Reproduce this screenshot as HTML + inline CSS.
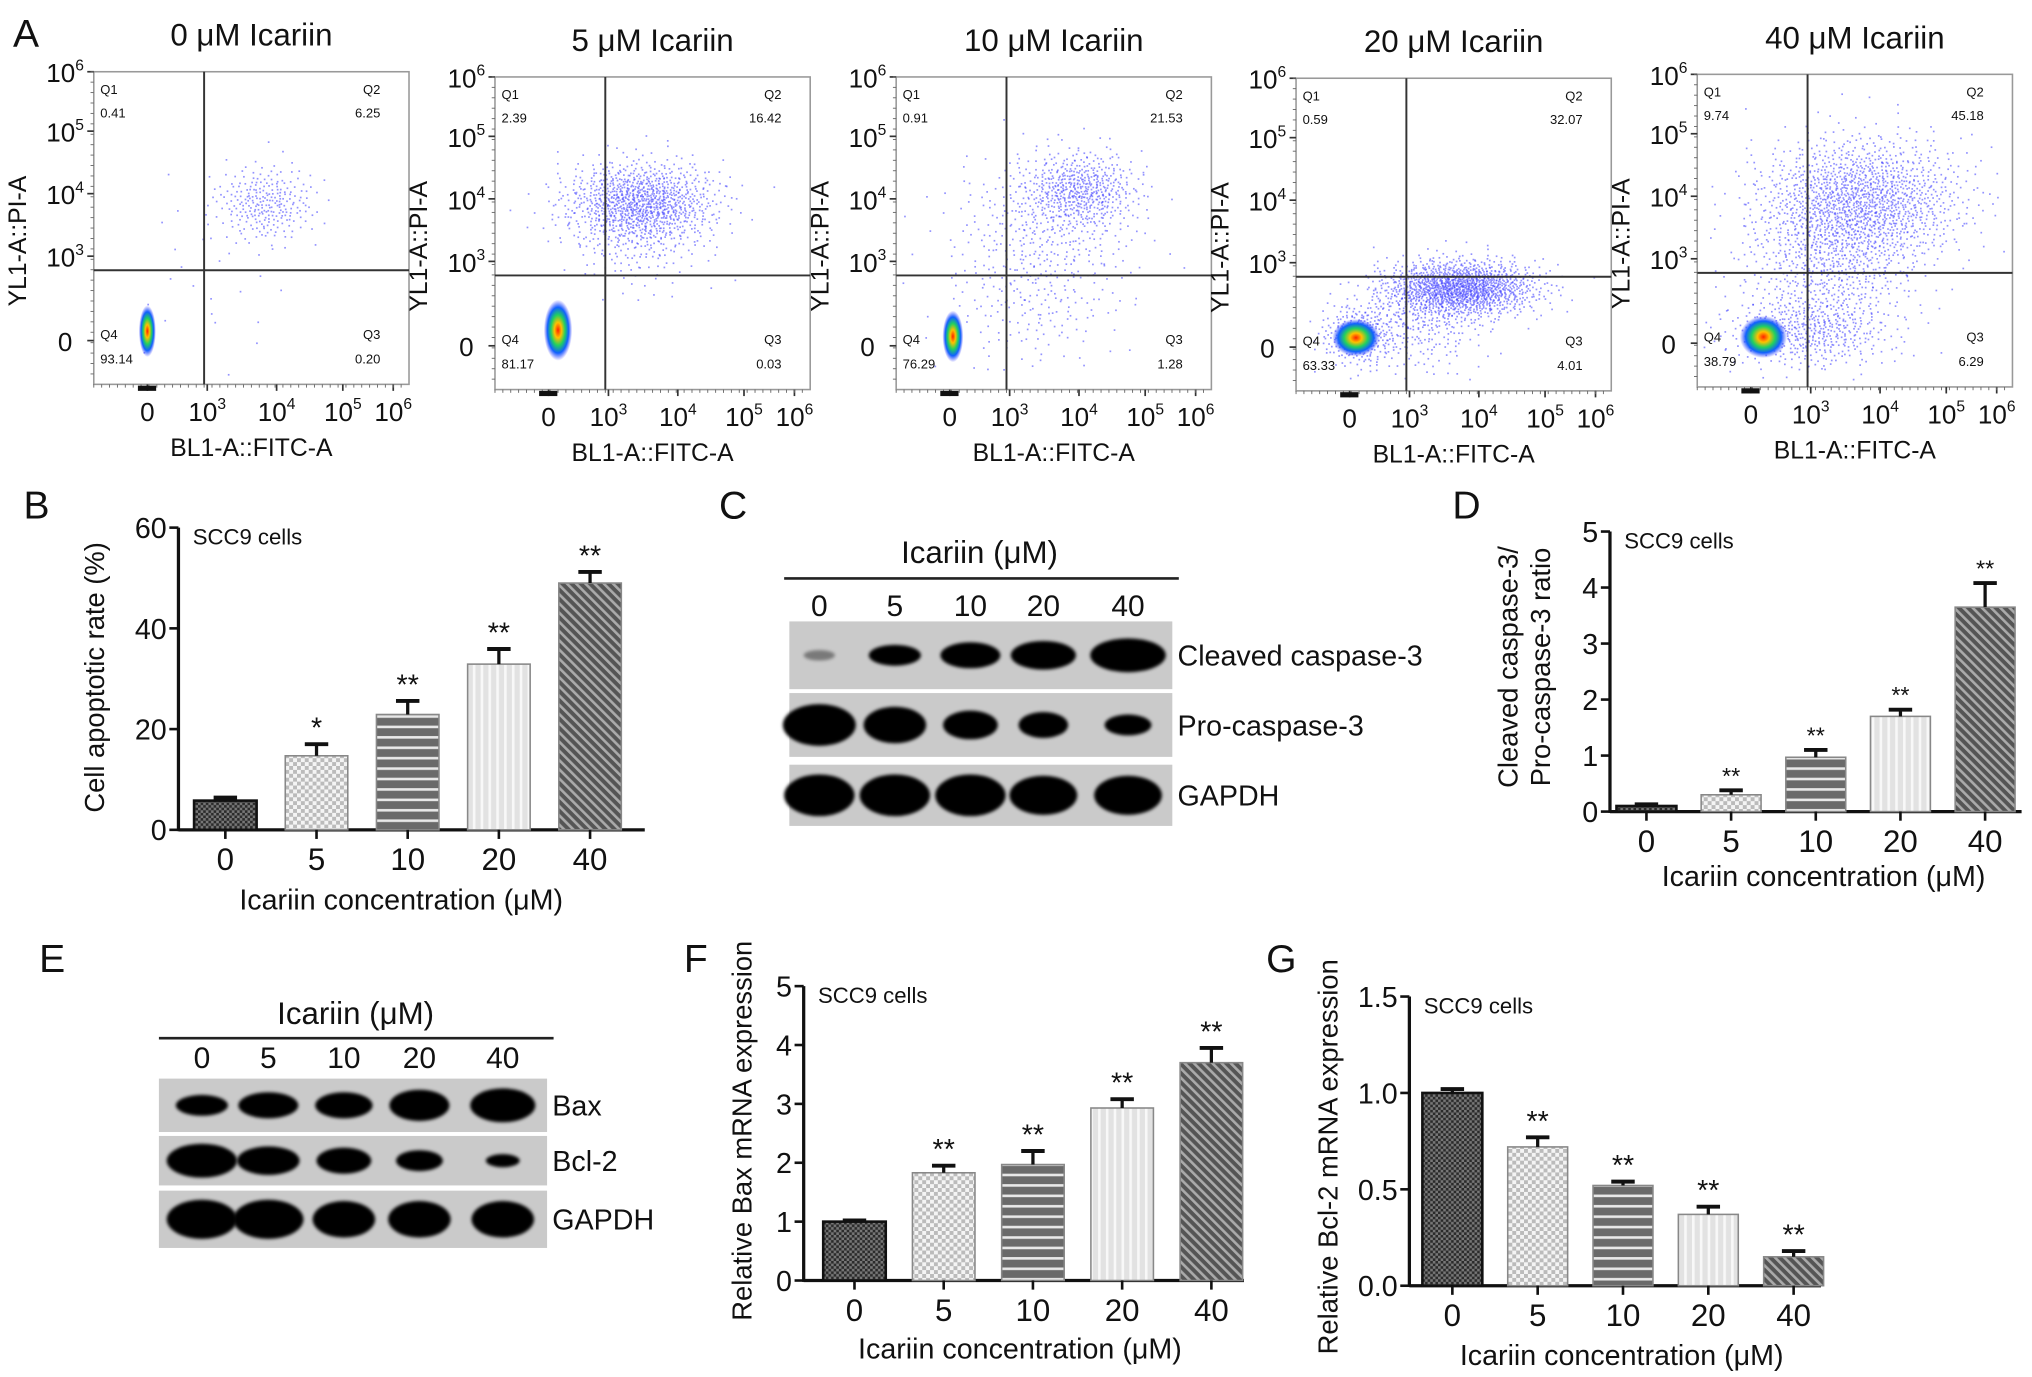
<!DOCTYPE html>
<html><head><meta charset="utf-8"><style>
html,body{margin:0;padding:0;background:#fff;}
svg{display:block;font-family:"Liberation Sans",Arial,sans-serif;}
</style></head><body>
<svg id="fig" width="2032" height="1377" viewBox="0 0 1560 1057" xmlns="http://www.w3.org/2000/svg">
<defs>
<pattern id="p0" width="4" height="4" patternUnits="userSpaceOnUse"><rect width="4" height="4" fill="#2a2a2a"/><rect width="2" height="2" fill="#777"/><rect x="2" y="2" width="2" height="2" fill="#777"/></pattern>
<pattern id="p1" width="6" height="6" patternUnits="userSpaceOnUse"><rect width="6" height="6" fill="#f4f4f4"/><rect width="3" height="3" fill="#bbb"/><rect x="3" y="3" width="3" height="3" fill="#bbb"/></pattern>
<pattern id="p2" width="8" height="8" patternUnits="userSpaceOnUse"><rect width="8" height="8" fill="#6a6a6a"/><rect y="5" width="8" height="2" fill="#e8e8e8"/></pattern>
<pattern id="p3" width="6" height="6" patternUnits="userSpaceOnUse"><rect width="6" height="6" fill="#e2e2e2"/><rect x="3" width="2" height="6" fill="#f8f8f8"/></pattern>
<pattern id="p4" width="5" height="5" patternUnits="userSpaceOnUse" patternTransform="rotate(-45)"><rect width="5" height="5" fill="#555"/><rect width="2" height="5" fill="#aaa"/></pattern>
<radialGradient id="blob"><stop offset="0" stop-color="#ff2000"/><stop offset="0.25" stop-color="#ffc000"/><stop offset="0.5" stop-color="#20d060"/><stop offset="0.75" stop-color="#1060ff"/><stop offset="1" stop-color="#4040ff" stop-opacity="0"/></radialGradient>
<filter id="blur" x="-30%" y="-50%" width="160%" height="200%"><feGaussianBlur stdDeviation="1.3"/></filter>
</defs>
<g id="root"></g>
</svg>
<script>
// ---- Panel A data ----
const flowTitles=["0 μM Icariin","5 μM Icariin","10 μM Icariin","20 μM Icariin","40 μM Icariin"];
const flowQ1=["0.41","2.39","0.91","0.59","9.74"];
const flowQ2=["6.25","16.42","21.53","32.07","45.18"];
const flowQ3=["0.20","0.03","1.28","4.01","6.29"];
const flowQ4=["93.14","81.17","76.29","63.33","38.79"];
// clusters: [plot, fx, fy, sx, sy, count] in box fractions
const flowClusters=[
[0,0.54,0.42,0.08,0.06,260],[0,0.4,0.68,0.15,0.15,25],
[1,0.46,0.40,0.12,0.065,1000],[1,0.45,0.5,0.11,0.09,200],
[2,0.58,0.36,0.09,0.06,500],[2,0.47,0.5,0.15,0.13,380],[2,0.42,0.75,0.14,0.1,120],
[3,0.52,0.67,0.12,0.045,1400],[3,0.4,0.78,0.1,0.08,250],[3,0.2,0.82,0.06,0.05,300],
[4,0.52,0.40,0.16,0.1,1400],[4,0.42,0.6,0.14,0.12,600],[4,0.35,0.82,0.13,0.06,450]];
const flowBlobs=[[0,0.17,0.83,0.018,0.055],[1,0.2,0.81,0.03,0.065],[2,0.18,0.83,0.022,0.055],[3,0.19,0.83,0.05,0.04],[4,0.21,0.84,0.05,0.045]];
// ---- Panel B ----
const concCats=["0","5","10","20","40"];
const bVals=[5.8,14.7,22.9,32.9,49.0];
const bErr=[0.6,2.3,2.7,3.0,2.2];
const bStars=["","*","**","**","**"];
const bTicks=[0,20,40,60];
// ---- Panel D ----
const dVals=[0.1,0.3,0.97,1.7,3.65];
const dErr=[0.03,0.08,0.13,0.12,0.43];
const dStars=["","**","**","**","**"];
const dTicks=[0,1,2,3,4,5];
// ---- Panel F ----
const fVals=[1.0,1.83,1.97,2.93,3.7];
const fErr=[0.02,0.12,0.23,0.15,0.25];
const fStars=["","**","**","**","**"];
const fTicks=[0,1,2,3,4,5];
// ---- Panel G ----
const gVals=[1.0,0.72,0.52,0.37,0.15];
const gErr=[0.02,0.05,0.02,0.04,0.03];
const gStars=["","**","**","**","**"];
const gTicks=["0.0","0.5","1.0","1.5"];
// ---- Blots (band width, height, darkness) ----
const cCleaved=[[24,8,0.4],[40,16,1],[46,20,1],[50,22,1],[58,26,1]];
const cPro=[[56,32,1],[48,28,1],[42,22,1],[38,20,1],[36,16,1]];
const cGapdh=[[54,32,1],[54,32,1],[54,32,1],[52,30,1],[52,30,1]];
const eBax=[[40,16,1],[46,20,1],[44,20,1],[46,24,1],[50,26,1]];
const eBcl=[[54,26,1],[48,22,1],[42,20,1],[36,16,1],[26,10,1]];
const eGapdh=[[54,30,1],[54,30,1],[48,28,1],[48,28,1],[48,28,1]];

const NS="http://www.w3.org/2000/svg";
const root=document.getElementById('root');
function mk(tag,attrs,parent,text){const e=document.createElementNS(NS,tag);for(const k in attrs)e.setAttribute(k,attrs[k]);if(text!==undefined)e.textContent=text;(parent||root).appendChild(e);return e;}
function txt(x,y,s,size,parent,anchor,name,extra){const t=mk('text',Object.assign({x:x,y:y,'font-size':size,'text-anchor':anchor||'middle',fill:'#111'},extra||{}),parent,s);return t;}
function sup(x,y,base,exp,size,parent,name){const t=mk('text',{x:x,y:y,'font-size':size,'text-anchor':'middle',fill:'#111'},parent);
 mk('tspan',{},t,base);if(exp){mk('tspan',{dy:-size*0.45,'font-size':size*0.6},t,exp);}return t;}

// panel letters
[["A",10,36],["B",18,398],["C",552,398],["D",1115,398],["E",30,746],["F",525,746],["G",972,746]].forEach(l=>{txt(l[1],l[2],l[0],30,root,'start','panel-label-'+l[0].toLowerCase());});

// ---- Panel A ----
const hal=(i,b)=>{let f=1,r=0;while(i>0){f/=b;r+=f*(i%b);i=Math.floor(i/b);}return r;};
const boxW=242,boxH=240;
const boxX=[72,380,688,995,1303];
const boxY=[55,59,59,60,57];
const gateFx=0.35,gateFy=0.635;
for(let p=0;p<5;p++){
 const g=mk('g',{});
 const X=boxX[p],Y=boxY[p];
 txt(X+boxW/2,Y-20,flowTitles[p],24,g,'middle','flow-title');
 mk('rect',{x:X,y:Y,width:boxW,height:boxH,fill:'#fff',stroke:'#999','stroke-width':1.2},g);
 const pts=mk('g',{fill:'#3a3aff','fill-opacity':0.55},g);
 let idx=1;
 flowClusters.filter(c=>c[0]===p).forEach(c=>{for(let i=0;i<c[5];i++){idx++;const u=hal(idx,2)*0.999+0.0005,v=hal(idx,3);const r=Math.sqrt(-2*Math.log(u));const fx=c[1]+c[3]*r*Math.cos(2*Math.PI*v),fy=c[2]+c[4]*r*Math.sin(2*Math.PI*v);if(fx<0.02||fx>0.98||fy<0.02||fy>0.98)continue;mk('rect',{x:(X+fx*boxW).toFixed(1),y:(Y+fy*boxH).toFixed(1),width:1.3,height:1.3},pts);}});
 flowBlobs.filter(b=>b[0]===p).forEach(b=>{const e=mk('ellipse',{cx:X+b[1]*boxW,cy:Y+b[2]*boxH,rx:b[3]*boxW*1.5,ry:b[4]*boxH*1.5,fill:'url(#blob)'},g);});
 const gx=X+gateFx*boxW,gy=Y+gateFy*boxH;
 mk('line',{x1:gx,y1:Y,x2:gx,y2:Y+boxH,stroke:'#333','stroke-width':1.5},g);
 mk('line',{x1:X,y1:gy,x2:X+boxW,y2:gy,stroke:'#333','stroke-width':1.5},g);
 txt(X+5,Y+17,'Q1',10,g,'start','q1-label');txt(X+5,Y+35,flowQ1[p],10,g,'start','q1-value');
 txt(X+boxW-22,Y+17,'Q2',10,g,'end','q2-label');txt(X+boxW-22,Y+35,flowQ2[p],10,g,'end','q2-value');
 txt(X+5,Y+boxH-35,'Q4',10,g,'start','q4-label');txt(X+5,Y+boxH-16,flowQ4[p],10,g,'start','q4-value');
 txt(X+boxW-22,Y+boxH-35,'Q3',10,g,'end','q3-label');txt(X+boxW-22,Y+boxH-16,flowQ3[p],10,g,'end','q3-value');
 const yt=[[0,'10','6'],[0.19,'10','5'],[0.39,'10','4'],[0.59,'10','3'],[0.86,'0','']];
 yt.forEach(t=>{const ty=Y+t[0]*boxH;mk('line',{x1:X-5,y1:ty,x2:X,y2:ty,stroke:'#333','stroke-width':1.3},g);sup(X-22,ty+8,t[1],t[2],20,g,'y-tick-label');});
 for(let k=0;k<30;k++){const ty=Y+k*boxH/30;mk('line',{x1:X-2.5,y1:ty,x2:X,y2:ty,stroke:'#666','stroke-width':0.7},g);}
 const xt=[[0.17,'0',''],[0.36,'10','3'],[0.58,'10','4'],[0.79,'10','5'],[0.95,'10','6']];
 xt.forEach(t=>{const tx=X+t[0]*boxW;mk('line',{x1:tx,y1:Y+boxH,x2:tx,y2:Y+boxH+5,stroke:'#333','stroke-width':1.3},g);sup(tx,Y+boxH+28,t[1],t[2],20,g,'x-tick-label');});
 for(let k=0;k<40;k++){const tx=X+k*boxW/40;mk('line',{x1:tx,y1:Y+boxH,x2:tx,y2:Y+boxH+2.5,stroke:'#666','stroke-width':0.7},g);}
 mk('rect',{x:X+0.14*boxW,y:Y+boxH+1,width:14,height:4,fill:'#111'},g);
 txt(X+boxW/2,Y+boxH+55,'BL1-A::FITC-A',19,g,'middle','x-axis-title');
 txt(0,0,'YL1-A::PI-A',19,g,'middle','y-axis-title',{transform:`translate(${X-52},${Y+boxH/2+10}) rotate(-90)`});
}

// ---- bar charts ----
function barChart(o){
 const g=mk('g',{});
 const yv=v=>o.y0-(v-o.min)/(o.max-o.min)*(o.y0-o.y1);
 mk('line',{x1:o.ax,y1:o.y1,x2:o.ax,y2:o.y0+1,stroke:'#111','stroke-width':2.5},g);
 mk('line',{x1:o.ax,y1:o.y0,x2:o.xend,y2:o.y0,stroke:'#111','stroke-width':2.5},g);
 o.ticks.forEach(t=>{const ty=yv(parseFloat(t));mk('line',{x1:o.ax-7,y1:ty,x2:o.ax,y2:ty,stroke:'#111','stroke-width':2},g);txt(o.ax-9,ty+8,String(t),22,g,'end','y-tick-label');});
 o.vals.forEach((v,i)=>{const cx=o.x0+i*o.step;
  const top=yv(v);
  const b=mk('rect',{x:cx-o.bw/2,y:top,width:o.bw,height:o.y0-top,fill:`url(#p${i})`,stroke:i===0?'#111':'#888','stroke-width':i===0?2:1.2},g);
  const et=yv(v+o.err[i]);
  mk('line',{x1:cx,y1:top,x2:cx,y2:et,stroke:'#111','stroke-width':2.5},g);
  mk('line',{x1:cx-9,y1:et,x2:cx+9,y2:et,stroke:'#111','stroke-width':3},g);
  if(o.stars[i])txt(cx,et-5,o.stars[i],o.starSize||22,g,'middle','significance-mark');
  mk('line',{x1:cx,y1:o.y0,x2:cx,y2:o.y0+7,stroke:'#111','stroke-width':2},g);
  txt(cx,o.y0+31,concCats[i],24,g,'middle','x-tick-label');
 });
 txt(o.xt,o.xty,'Icariin concentration (μM)',22,g,'middle','x-axis-title');
 o.ytitle.forEach((s,k)=>txt(0,0,s,21,g,'middle','y-axis-title',{transform:`translate(${o.ytx[k]},${o.yty}) rotate(-90)`}));
 txt(o.ax+11,o.y1+13,'SCC9 cells',17,g,'start','cell-line-label');
}
barChart({name:'chart-b-apoptosis',ax:137,y0:637,y1:405,min:0,max:60,x0:173,step:70,bw:48,xend:495,vals:bVals,err:bErr,stars:bStars,ticks:bTicks,xt:308,xty:698,ytitle:['Cell apoptotic rate (%)'],ytx:[80],yty:520});
barChart({name:'chart-d-caspase-ratio',ax:1236,y0:623,y1:408,min:0,max:5,x0:1264,step:65,bw:46,xend:1552,vals:dVals,err:dErr,stars:dStars,ticks:dTicks,xt:1400,xty:680,ytitle:['Cleaved caspase-3/','Pro-caspase-3 ratio'],ytx:[1165,1190],yty:512,starSize:18});
barChart({name:'chart-f-bax-mrna',ax:617,y0:983,y1:757,min:0,max:5,x0:656,step:68.5,bw:48,xend:955,vals:fVals,err:fErr,stars:fStars,ticks:fTicks,xt:783,xty:1043,ytitle:['Relative Bax mRNA expression'],ytx:[577],yty:868});
barChart({name:'chart-g-bcl2-mrna',ax:1082,y0:987,y1:765,min:0,max:1.5,x0:1115,step:65.5,bw:46,xend:1398,vals:gVals,err:gErr,stars:gStars,ticks:gTicks,xt:1245,xty:1048,ytitle:['Relative Bcl-2 mRNA expression'],ytx:[1027],yty:888});

// ---- blots ----
function blot(o){
 const g=mk('g',{});
 txt(o.hx,o.hy,'Icariin (μM)',24,g,'middle','blot-header');
 mk('line',{x1:o.lx1,y1:o.ly,x2:o.lx2,y2:o.ly,stroke:'#222','stroke-width':2},g);
 o.lanes.forEach((lx,i)=>txt(lx,o.ny,concCats[i],23,g,'middle','lane-label'));
 o.rows.forEach((r,k)=>{
  const rg=mk('g',{},g);
  mk('rect',{x:o.bx1,y:r[0],width:o.bx2-o.bx1,height:r[1]-r[0],fill:'#cacaca'},rg);
  o.bands[k].forEach((b,i)=>{const e=mk('ellipse',{cx:o.lanes[i],cy:(r[0]+r[1])/2,rx:b[0]/2,ry:b[1]/2,fill:'#000','fill-opacity':b[2],filter:'url(#blur)'},rg);});
  txt(o.bx2+4,(r[0]+r[1])/2+8,o.labels[k],22,rg,'start','protein-label');
 });
}
blot({name:'blot-c-caspase',hx:752,hy:432,lx1:602,lx2:905,ly:444,ny:473,lanes:[629,687,745,801,866],bx1:606,bx2:900,rows:[[477,529],[532,581],[587,634]],bands:[cCleaved,cPro,cGapdh],labels:['Cleaved caspase-3','Pro-caspase-3','GAPDH']});
blot({name:'blot-e-bax-bcl2',hx:273,hy:786,lx1:122,lx2:425,ly:797,ny:820,lanes:[155,206,264,322,386],bx1:122,bx2:420,rows:[[828,869],[872,910],[914,958]],bands:[eBax,eBcl,eGapdh],labels:['Bax','Bcl-2','GAPDH']});
</script>
</body></html>
